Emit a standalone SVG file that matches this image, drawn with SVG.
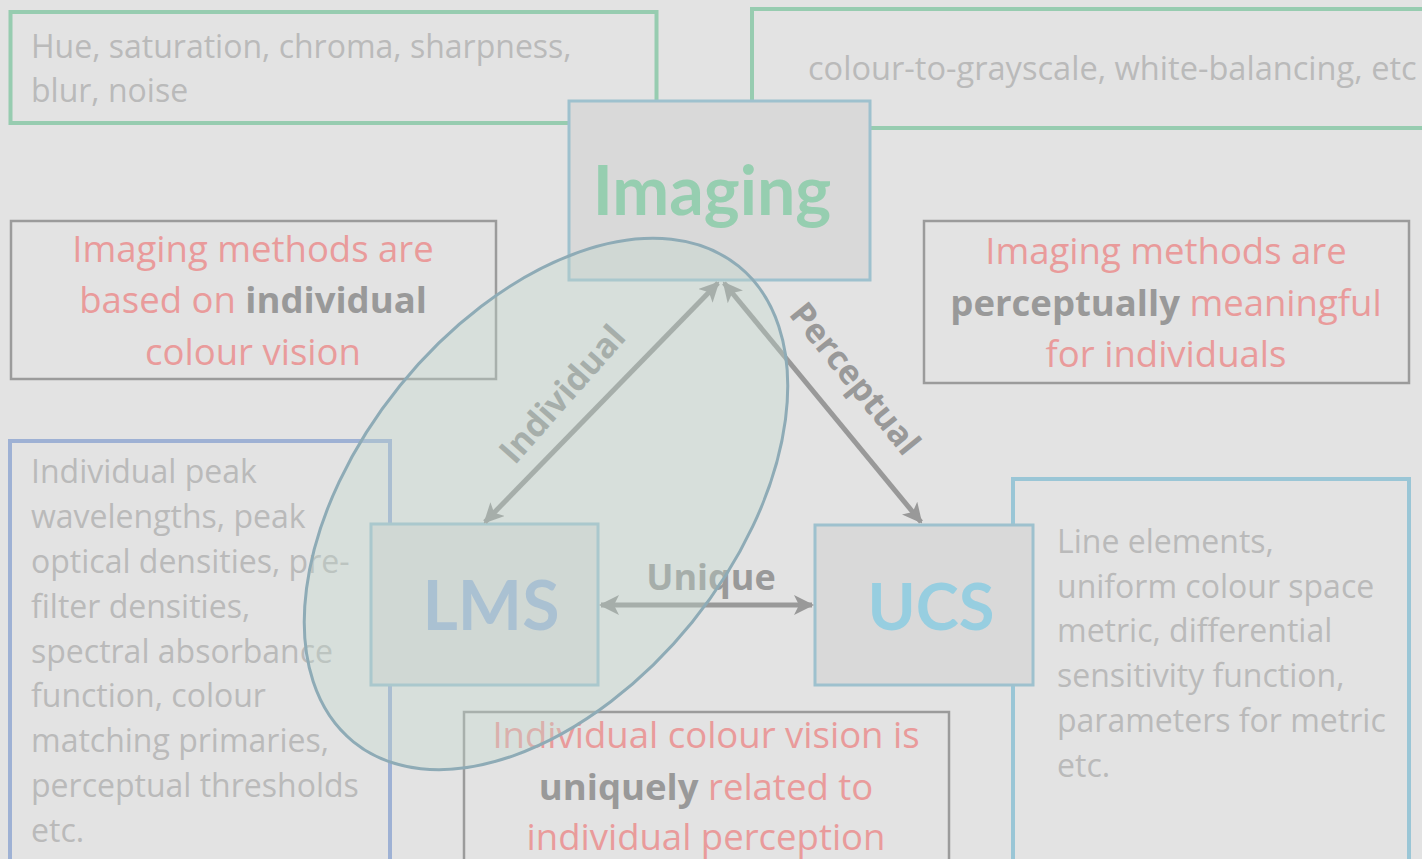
<svg xmlns="http://www.w3.org/2000/svg" width="1422" height="859" viewBox="0 0 1422 859">
<style>
.bg{fill:#e3e3e3}
.gbox{fill:none;stroke:#97ccb0;stroke-width:4}
.node{fill:#d9d9d9;stroke:#9ec1ce;stroke-width:3}
.rbox{fill:none;stroke:#9b9b9b;stroke-width:2.5}
.body{font-family:"Open Sans",sans-serif;font-size:32px;fill:#bababa}
.top{font-family:"Open Sans",sans-serif;font-size:32px;fill:#bababa}
.red{font-family:"Open Sans",sans-serif;font-size:36.5px;fill:#e99b9b;text-anchor:middle}
.b{font-weight:bold;fill:#999999}
.title{font-family:Lato,"Open Sans",sans-serif;font-weight:bold;font-size:68px;text-anchor:middle}
.lbl{font-family:"Open Sans",sans-serif;font-weight:bold;font-size:34px;fill:#999999;text-anchor:middle}
.arr{stroke:#999999;stroke-width:5;fill:none;marker-start:url(#ah);marker-end:url(#ah)}
</style>
<defs>
<marker id="ah" viewBox="0 0 10 10" refX="9" refY="5" markerWidth="4" markerHeight="4" orient="auto-start-reverse" markerUnits="strokeWidth">
<path d="M0,0 L10,5 L0,10 L2.5,5 z" fill="#999999"/>
</marker>
</defs>
<rect class="bg" x="0" y="0" width="1422" height="859"/>

<g id="imaging-params">
<rect class="gbox" x="10.5" y="12" width="646" height="111"/>
<text class="top" x="31" y="58">Hue, saturation, chroma, sharpness,</text>
<text class="top" x="31" y="102">blur, noise</text>
</g>
<g id="imaging-methods">
<rect class="gbox" x="752" y="9" width="720" height="119"/>
<text class="top" x="808" y="80" style="font-size:32.6px">colour-to-grayscale, white-balancing, etc</text>
</g>
<g id="imaging">
<rect class="node" x="569" y="101" width="301" height="179"/>
<text class="title" x="712" y="215" fill="#96ceb0">Imaging</text>
</g>
<g id="note-individual">
<rect class="rbox" x="11" y="221" width="485" height="158"/>
<text class="red" x="253" y="262">Imaging methods are</text>
<text class="red" x="253" y="313">based on <tspan class="b">individual</tspan></text>
<text class="red" x="253" y="365">colour vision</text>
</g>
<g id="note-perceptual">
<rect class="rbox" x="924" y="221" width="485" height="162"/>
<text class="red" x="1166" y="264">Imaging methods are</text>
<text class="red" x="1166" y="316"><tspan class="b">perceptually</tspan> meaningful</text>
<text class="red" x="1166" y="367">for individuals</text>
</g>
<g id="lms-params">
<rect x="10" y="441" width="380" height="460" fill="none" stroke="#9eb1d4" stroke-width="4"/>
<text class="body" x="31" y="483">Individual peak</text>
<text class="body" x="31" y="528">wavelengths, peak</text>
<text class="body" x="31" y="573">optical densities, pre-</text>
<text class="body" x="31" y="618">filter densities,</text>
<text class="body" x="31" y="663">spectral absorbance</text>
<text class="body" x="31" y="707">function, colour</text>
<text class="body" x="31" y="752">matching primaries,</text>
<text class="body" x="31" y="797">perceptual thresholds</text>
<text class="body" x="31" y="842">etc.</text>
</g>
<g id="ucs-params">
<rect x="1013" y="479" width="396" height="422" fill="none" stroke="#9ac6d6" stroke-width="4"/>
<text class="body" x="1057" y="553">Line elements,</text>
<text class="body" x="1057" y="598">uniform colour space</text>
<text class="body" x="1057" y="642">metric, differential</text>
<text class="body" x="1057" y="687">sensitivity function,</text>
<text class="body" x="1057" y="732">parameters for metric</text>
<text class="body" x="1057" y="777">etc.</text>
</g>
<g id="lms">
<rect class="node" x="371" y="524" width="227" height="161" stroke="#a3ccd6"/>
<text class="title" x="491" y="630" fill="#9fb5d6">LMS</text>
</g>
<g id="ucs">
<rect class="node" x="815" y="525" width="218" height="160"/>
<text class="title" x="931" y="630" fill="#97cee0" style="font-size:65px">UCS</text>
</g>
<g id="note-unique">
<rect class="rbox" x="464" y="712" width="485" height="190" stroke-width="3"/>
<text class="red" x="706" y="748">Individual colour vision is</text>
<text class="red" x="706" y="800"><tspan class="b">uniquely</tspan> related to</text>
<text class="red" x="706" y="850">individual perception</text>
</g>

<g id="connectors">
<line class="arr" x1="718" y1="283" x2="485" y2="522"/>
<line class="arr" x1="724" y1="283" x2="921" y2="522"/>
<line class="arr" x1="601" y1="605" x2="812" y2="605"/>
<text class="lbl" transform="translate(571,402) rotate(-48.5)">Individual</text>
<text class="lbl" transform="translate(846,386) rotate(51)">Perceptual</text>
<text class="lbl" x="711" y="590" style="font-size:36px">Unique</text>
</g>

<g id="individual-region">
<ellipse cx="546" cy="504" rx="306" ry="188" transform="rotate(-51 546 504)" fill="#bfd6cc" fill-opacity="0.35" stroke="#8eabb6" stroke-width="3"/>
</g>
</svg>
